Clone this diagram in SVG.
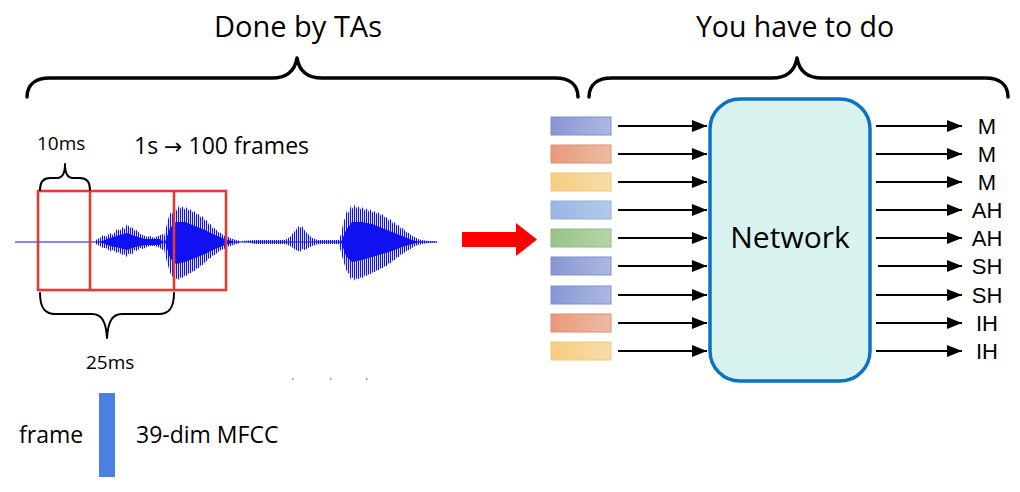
<svg xmlns="http://www.w3.org/2000/svg" width="1020" height="492" viewBox="0 0 1020 492">
<style>
.t{font-family:"Open Sans","Liberation Sans",sans-serif;fill:#000}
.lab{font-family:"Liberation Sans",Arial,sans-serif;font-size:22px;fill:#000;text-anchor:middle}
.brace{fill:none;stroke:#000;stroke-linecap:round;stroke-linejoin:round}
.conn{stroke:#000;stroke-width:2;fill:none}
.frame{fill:none;stroke:#e53a2f;stroke-width:2.6}
.wav{fill:url(#stripes)}
.core{fill:#1010f0}
</style>
<defs>
<marker id="ah" markerWidth="16" markerHeight="12" refX="15" refY="6" orient="auto" markerUnits="userSpaceOnUse">
<path d="M0,0 L15,6 L0,12 Z" fill="#000"/>
</marker>
<pattern id="stripes" width="2" height="4" patternUnits="userSpaceOnUse">
<rect x="0" y="0" width="1.1" height="4" fill="#1010f0"/>
</pattern>
<linearGradient id="gBlue" x1="0" x2="1" y1="0" y2="0"><stop offset="0" stop-color="#8796d4"/><stop offset="1" stop-color="#adb9e2"/></linearGradient>
<linearGradient id="gOrange" x1="0" x2="1" y1="0" y2="0"><stop offset="0" stop-color="#e8997a"/><stop offset="1" stop-color="#ecbba4"/></linearGradient>
<linearGradient id="gYellow" x1="0" x2="1" y1="0" y2="0"><stop offset="0" stop-color="#f6cc80"/><stop offset="1" stop-color="#f8dcaa"/></linearGradient>
<linearGradient id="gLBlue" x1="0" x2="1" y1="0" y2="0"><stop offset="0" stop-color="#98b5e2"/><stop offset="1" stop-color="#b4caeb"/></linearGradient>
<linearGradient id="gGreen" x1="0" x2="1" y1="0" y2="0"><stop offset="0" stop-color="#98c287"/><stop offset="1" stop-color="#b7d5a8"/></linearGradient>
</defs>

<!-- Titles and braces -->
<text class="t" x="298" y="37" font-size="29" text-anchor="middle">Done by TAs</text>
<text class="t" x="795" y="37" font-size="28.5" text-anchor="middle">You have to do</text>
<path class="brace" stroke-width="3.5" d="M27,97 C27,85 35,78 50,78 L272,78 C288,78 295,70 297,58 C299,70 306,78 322,78 L555,78 C570,78 578,85 578,97"/>
<path class="brace" stroke-width="3.5" d="M589,97 C589,85 597,78 612,78 L772,78 C788,78 795,70 797,58 C799,70 806,78 822,78 L985,78 C1000,78 1008,85 1008,97"/>

<!-- Left panel: waveform -->
<g id="waveform">
<rect x="15" y="241.5" width="422" height="1" fill="#1010f0"/>
<polygon class="wav" points="95,242 97,239 100,238 103,235 106,237 110,233 113,235 117,229 120,231 122,227 125,229 127,224 130,228 132,227 135,231 137,230 140,234 143,235 147,237 150,236 154,238 158,236 163,234 165,240 163,250 158,247 154,246 150,246 147,247 143,249 140,248 137,251 134,250 132,255 129,253 127,257 124,254 122,255 119,252 117,253 113,250 110,251 106,248 103,248 100,246 97,245"/>
<polygon class="core" points="100,242 110,238 120,235 127,233 135,236 145,239 160,239 163,242 160,245 145,245 135,247 127,250 120,248 110,246"/>
<polygon class="wav" points="163,242 165,232 167,224 169,216 171,212 173,214 175,208 177,211 179,205 181,209 183,206 185,210 187,207 189,211 191,209 193,213 195,211 197,215 199,214 201,218 203,216 205,221 207,220 209,225 211,224 213,229 215,228 218,232 221,233 224,236 227,236 230,238 233,239 236,240 240,241 240,243 236,244 233,245 230,246 227,247 224,249 221,250 218,252 215,255 213,255 211,258 209,258 207,261 205,262 203,265 201,265 199,268 197,268 195,271 193,271 191,273 189,273 187,276 185,275 183,278 181,277 179,280 177,278 175,281 173,277 171,275 169,269 167,262 165,254"/>
<polygon class="core" points="165,242 170,228 176,222 185,222 195,226 205,230 215,235 225,239 232,241 232,243 225,245 215,249 205,254 195,258 185,262 176,264 170,258"/>
<polygon class="wav" points="240,241 255,240 270,240 285,240 290,237 293,233 296,230 298,226 300,228 302,226 305,231 308,234 312,238 318,240 330,240 340,240 340,244 330,244 318,244 312,246 308,248 305,250 302,249 300,252 298,251 296,250 293,248 290,246 285,244 270,244 255,244"/>
<polygon class="wav" points="338,242 341,234 343,224 345,218 347,210 349,213 351,205 353,209 355,204 357,209 359,206 361,210 363,207 365,211 367,208 369,212 371,209 373,213 375,211 377,214 379,212 381,216 383,214 385,218 387,217 389,221 391,219 393,224 395,222 397,226 399,225 401,229 403,228 406,232 409,233 412,236 415,237 418,239 422,240 428,241 437,241.5 437,242.5 428,243 422,244 418,245 415,246 412,248 409,250 406,251 403,254 401,254 399,257 397,257 395,260 393,260 391,263 389,263 387,266 385,266 383,268 381,268 379,270 377,270 375,272 373,272 371,274 369,274 367,276 365,275 363,278 361,277 359,279 357,278 355,281 353,277 351,280 349,274 347,272 345,266 343,260 341,252"/>
<polygon class="core" points="341,242 346,230 352,222 362,222 372,224 382,228 392,232 402,236 412,240 420,242 412,244 402,247 392,251 382,254 372,257 362,260 352,262 346,256"/>
</g>

<!-- frame rectangles -->
<g id="frames">
<rect class="frame" x="38" y="191" width="188" height="99"/>
<line class="frame" x1="90" y1="191" x2="90" y2="290"/>
<line class="frame" x1="174" y1="191" x2="174" y2="290"/>
</g>

<g id="annotations">
<text class="t" x="37" y="150" font-size="19">10ms</text>
<text class="t" x="134" y="154" font-size="23">1s <tspan font-family="DejaVu Sans, sans-serif" font-size="22">→</tspan> 100 frames</text>
<path class="brace" stroke-width="2" d="M40,190 C40,183 43,178 50,178 L57,178 C62,178 65,173 65,164 C65,173 68,178 73,178 L80,178 C87,178 90,183 90,190"/>
<path class="brace" stroke-width="2" d="M40,293 C40,308 45,314 55,314 L92,314 C102,314 106,322 107,338 C108,322 112,314 122,314 L159,314 C169,314 174,308 174,293"/>
<text class="t" x="86" y="369" font-size="19">25ms</text>
<rect x="292" y="378" width="1.5" height="2" fill="#999"/>
<rect x="330" y="378" width="1.5" height="2" fill="#999"/>
<rect x="366" y="378" width="1.5" height="2" fill="#999"/>
</g>

<!-- Bottom legend -->
<g id="legend">
<text class="t" x="19" y="443" font-size="23">frame</text>
<rect x="99" y="393" width="16" height="84" fill="#4a80e0"/>
<text class="t" x="136" y="443" font-size="23">39-dim MFCC</text>
</g>

<!-- Big red arrow -->
<g id="bigArrow">
<path d="M462,232 L516,232 L516,223 L537,239.5 L516,256 L516,247 L462,247 Z" fill="#ff0000"/>
</g>

<!-- Feature vectors -->
<g id="features" stroke-width="1">
<rect x="551" y="117" width="60" height="18" fill="url(#gBlue)" stroke="#7d8fcf"/>
<rect x="551" y="145" width="60" height="18" fill="url(#gOrange)" stroke="#e09070"/>
<rect x="551" y="173" width="60" height="18" fill="url(#gYellow)" stroke="#f2c878"/>
<rect x="551" y="201" width="60" height="18" fill="url(#gLBlue)" stroke="#93b0de"/>
<rect x="551" y="229" width="60" height="18" fill="url(#gGreen)" stroke="#90bb7e"/>
<rect x="551" y="257" width="60" height="18" fill="url(#gBlue)" stroke="#7d8fcf"/>
<rect x="551" y="286" width="60" height="18" fill="url(#gBlue)" stroke="#7d8fcf"/>
<rect x="551" y="314" width="60" height="18" fill="url(#gOrange)" stroke="#e09070"/>
<rect x="551" y="342" width="60" height="18" fill="url(#gYellow)" stroke="#f2c878"/>
</g>

<!-- Network node -->
<g id="network">
<rect x="710" y="99" width="160" height="282" rx="30" ry="30" fill="#d8f3ef" stroke="#0b72c4" stroke-width="3.5"/>
<text x="790" y="248" font-family="Open Sans, Liberation Sans, sans-serif" font-size="30" text-anchor="middle" fill="#000">Network</text>
</g>

<!-- Connectors -->
<g id="connectors" class="conn" marker-end="url(#ah)">
<line x1="618" y1="126" x2="707" y2="126"/>
<line x1="618" y1="154" x2="707" y2="154"/>
<line x1="618" y1="182" x2="707" y2="182"/>
<line x1="618" y1="210" x2="707" y2="210"/>
<line x1="618" y1="238" x2="707" y2="238"/>
<line x1="618" y1="266" x2="707" y2="266"/>
<line x1="618" y1="295" x2="707" y2="295"/>
<line x1="618" y1="323" x2="707" y2="323"/>
<line x1="618" y1="351" x2="707" y2="351"/>
<line x1="876" y1="126" x2="962" y2="126"/>
<line x1="876" y1="154" x2="962" y2="154"/>
<line x1="876" y1="182" x2="962" y2="182"/>
<line x1="876" y1="210" x2="962" y2="210"/>
<line x1="876" y1="238" x2="962" y2="238"/>
<line x1="878" y1="266" x2="962" y2="266"/>
<line x1="876" y1="295" x2="962" y2="295"/>
<line x1="876" y1="323" x2="962" y2="323"/>
<line x1="876" y1="351" x2="962" y2="351"/>
</g>

<!-- Output labels -->
<g id="outputs">
<text class="lab" x="987" y="134">M</text>
<text class="lab" x="987" y="162">M</text>
<text class="lab" x="987" y="190">M</text>
<text class="lab" x="987" y="218">AH</text>
<text class="lab" x="987" y="246">AH</text>
<text class="lab" x="987" y="274">SH</text>
<text class="lab" x="987" y="303">SH</text>
<text class="lab" x="987" y="331">IH</text>
<text class="lab" x="987" y="359">IH</text>
</g>
</svg>
